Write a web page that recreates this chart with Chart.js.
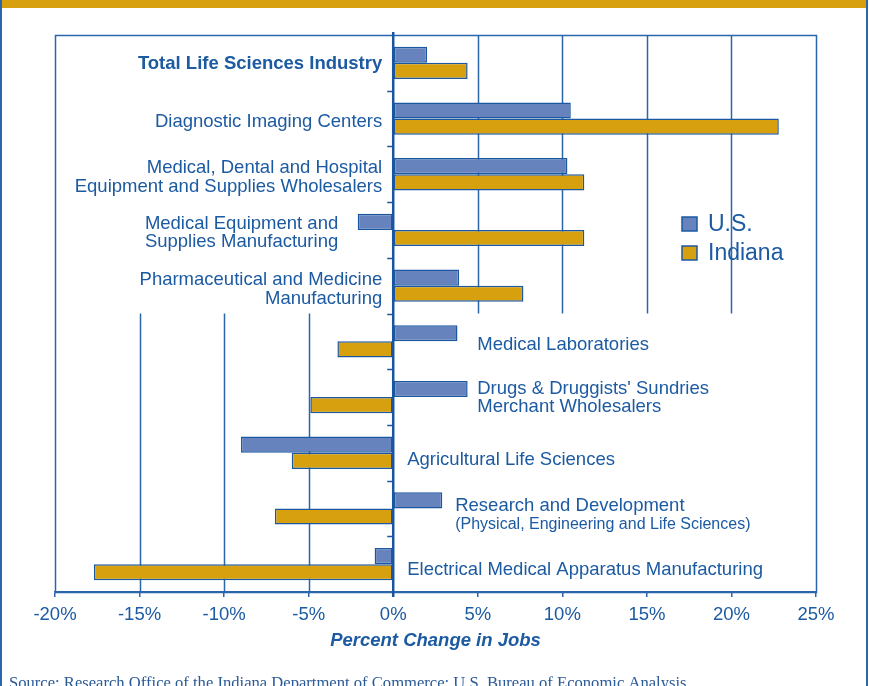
<!DOCTYPE html>
<html>
<head>
<meta charset="utf-8">
<script src="https://cdn.jsdelivr.net/npm/chart.js@4.4.1/dist/chart.umd.min.js"></script>
<style>
  html, body { margin: 0; padding: 0; background: #fff; }
  #wrap { position: relative; width: 869px; height: 686px; }
</style>
</head>
<body>
<div id="wrap"><canvas id="jobsChart" width="869" height="686"></canvas></div>
<script>
// Data (percent change in jobs)
const categories = [
  ["Total Life Sciences Industry"],
  ["Diagnostic Imaging Centers"],
  ["Medical, Dental and Hospital", "Equipment and Supplies Wholesalers"],
  ["Medical Equipment and", "Supplies Manufacturing"],
  ["Pharmaceutical and Medicine", "Manufacturing"],
  ["Medical Laboratories"],
  ["Drugs & Druggists' Sundries", "Merchant Wholesalers"],
  ["Agricultural Life Sciences"],
  ["Research and Development", "(Physical, Engineering and Life Sciences)"],
  ["Electrical Medical Apparatus Manufacturing"]
];
const usValues = [2.0, 10.5, 10.3, -2.1, 3.9, 3.8, 4.4, -9.0, 2.9, -1.1];
const indianaValues = [4.4, 22.8, 11.3, 11.3, 7.7, -3.3, -4.9, -6.0, -7.0, -17.7];
const xTicks = [-20, -15, -10, -5, 0, 5, 10, 15, 20, 25];
const seriesNames = ["U.S.", "Indiana"];
const axisTitle = "Percent Change in Jobs";
const sourceNote = "Source: Research Office of the Indiana Department of Commerce; U.S. Bureau of Economic Analysis";

const BLUE = "#1c5aa2";
const LINE = "#2b66aa";
const US_FILL = "#6683be";
const IN_FILL = "#d6a00f";
const SANS = "'Liberation Sans', Arial, Helvetica, sans-serif";

// label placement per category: side of the zero line, gap in px, vertical nudge
const labelPlace = [
  { side: "left", gap: 11, dy: 1, bold: true },
  { side: "left", gap: 11, dy: 3 },
  { side: "left", gap: 11, dy: 3 },
  { side: "left", gap: 55, dy: 3 },
  { side: "left", gap: 11, dy: 4 },
  { side: "right", gap: 84, dy: 4 },
  { side: "right", gap: 84, dy: 1 },
  { side: "right", gap: 14, dy: 7 },
  { side: "right", gap: 62, dy: 6, small: 1 },
  { side: "right", gap: 14, dy: 6 }
];

const decorPlugin = {
  id: "decor",
  beforeDraw(chart) {
    const c = chart.ctx;
    c.save();
    c.fillStyle = "#fff";
    c.fillRect(0, 0, chart.width, chart.height);
    // page frame
    c.fillStyle = IN_FILL;
    c.fillRect(0, 0, 868, 8);
    c.fillStyle = LINE;
    c.fillRect(0, 0, 2, chart.height);
    c.fillRect(866, 0, 2, chart.height);
    c.restore();
  },
  beforeDatasetsDraw(chart) {
    const c = chart.ctx;
    const a = chart.chartArea;
    const x = chart.scales.x, y = chart.scales.y;
    const band = (y.getPixelForValue(1) - y.getPixelForValue(0));
    const midY = y.getPixelForValue(4) + band / 2;
    c.save();
    c.strokeStyle = LINE;
    c.lineWidth = 1.5;
    xTicks.forEach(v => {
      if (v <= -20 || v >= 25 || v === 0) return;
      const px = Math.round(x.getPixelForValue(v)) + 0.5;
      c.beginPath();
      if (v > 0) { c.moveTo(px, a.top); c.lineTo(px, midY); }
      else { c.moveTo(px, midY); c.lineTo(px, a.bottom); }
      c.stroke();
    });
    c.strokeRect(Math.round(a.left) + 0.5, Math.round(a.top) + 0.5,
      Math.round(a.right - a.left), Math.round(a.bottom - a.top));
    c.restore();
  },
  afterDatasetsDraw(chart) {
    const c = chart.ctx;
    const a = chart.chartArea;
    const x = chart.scales.x, y = chart.scales.y;
    const x0 = x.getPixelForValue(0);
    const band = (y.getPixelForValue(1) - y.getPixelForValue(0));
    c.save();
    // zero axis and its category ticks
    c.strokeStyle = "#1a56a0";
    c.lineWidth = 2.5;
    c.beginPath();
    c.moveTo(x0, a.top - 3);
    c.lineTo(x0, a.bottom + 5);
    c.stroke();
    c.lineWidth = 1.5;
    for (let i = 0; i < categories.length - 1; i++) {
      const py = Math.round(y.getPixelForValue(i) + band / 2) + 0.5;
      c.beginPath();
      c.moveTo(x0 - 6, py);
      c.lineTo(x0, py);
      c.stroke();
    }
    // category labels
    c.fillStyle = BLUE;
    c.textBaseline = "middle";
    categories.forEach((lines, i) => {
      const p = labelPlace[i];
      const cy = y.getPixelForValue(i) + p.dy;
      const lh = 18.5;
      const tx = p.side === "left" ? x0 - p.gap : x0 + p.gap;
      c.textAlign = p.side === "left" ? "right" : "left";
      lines.forEach((t, j) => {
        const small = p.small === j;
        c.font = (p.bold ? "bold " : "") + (small ? "16px " : "18.5px ") + SANS;
        let ly = cy + (j - (lines.length - 1) / 2) * lh;
        if (p.small !== undefined) ly = cy - 9 + j * 19;
        c.fillText(t, tx, ly);
      });
    });
    // legend
    const ds = chart.data.datasets;
    ds.forEach((d, i) => {
      const ly = 217 + i * 29;
      c.fillStyle = d.backgroundColor;
      c.fillRect(682, ly, 15, 14);
      c.strokeStyle = d.borderColor;
      c.lineWidth = 1.5;
      c.strokeRect(682, ly, 15, 14);
      c.fillStyle = BLUE;
      c.textAlign = "left";
      c.font = "23px " + SANS;
      c.fillText(d.label, 708, ly + 8);
    });
    // axis title
    c.font = "italic bold 18.5px " + SANS;
    c.textAlign = "center";
    c.fillText(axisTitle, (a.left + a.right) / 2, 641);
    // source line
    c.font = "16.6px 'Liberation Serif', 'Times New Roman', serif";
    c.textAlign = "left";
    c.textBaseline = "alphabetic";
    c.fillStyle = "#2a5a98";
    c.fillText(sourceNote, 9, 688);
    c.restore();
  }
};

const ctx = document.getElementById("jobsChart").getContext("2d");
const jobsChart = new Chart(ctx, {
  type: "bar",
  data: {
    labels: categories,
    datasets: [
      {
        label: seriesNames[0],
        data: usValues,
        backgroundColor: US_FILL,
        borderColor: "#1c58a0",
        borderWidth: 1.5,
        borderSkipped: false,
        categoryPercentage: 0.58,
        barPercentage: 1.0
      },
      {
        label: seriesNames[1],
        data: indianaValues,
        backgroundColor: IN_FILL,
        borderColor: "#1c58a0",
        borderWidth: 1.5,
        borderSkipped: false,
        categoryPercentage: 0.58,
        barPercentage: 1.0
      }
    ]
  },
  options: {
    indexAxis: "y",
    responsive: false,
    animation: false,
    layout: { padding: { left: 55, right: 53, top: 35, bottom: 0 } },
    plugins: {
      legend: { display: false },
      tooltip: { enabled: false }
    },
    scales: {
      x: {
        min: -20,
        max: 25,
        afterBuildTicks(scale) {
          scale.ticks = xTicks.map(v => ({ value: v }));
        },
        afterFit(scale) { scale.height = 94; },
        ticks: {
          callback: v => v + "%",
          color: BLUE,
          font: { family: SANS, size: 18.5 },
          padding: 7,
          maxRotation: 0,
          autoSkip: false
        },
        grid: {
          display: true,
          drawOnChartArea: false,
          drawTicks: true,
          tickLength: 5,
          color: LINE,
          lineWidth: 1.5
        },
        border: { display: true, color: LINE, width: 1.5 }
      },
      y: {
        display: false
      }
    }
  },
  plugins: [decorPlugin]
});
</script>
</body>
</html>
